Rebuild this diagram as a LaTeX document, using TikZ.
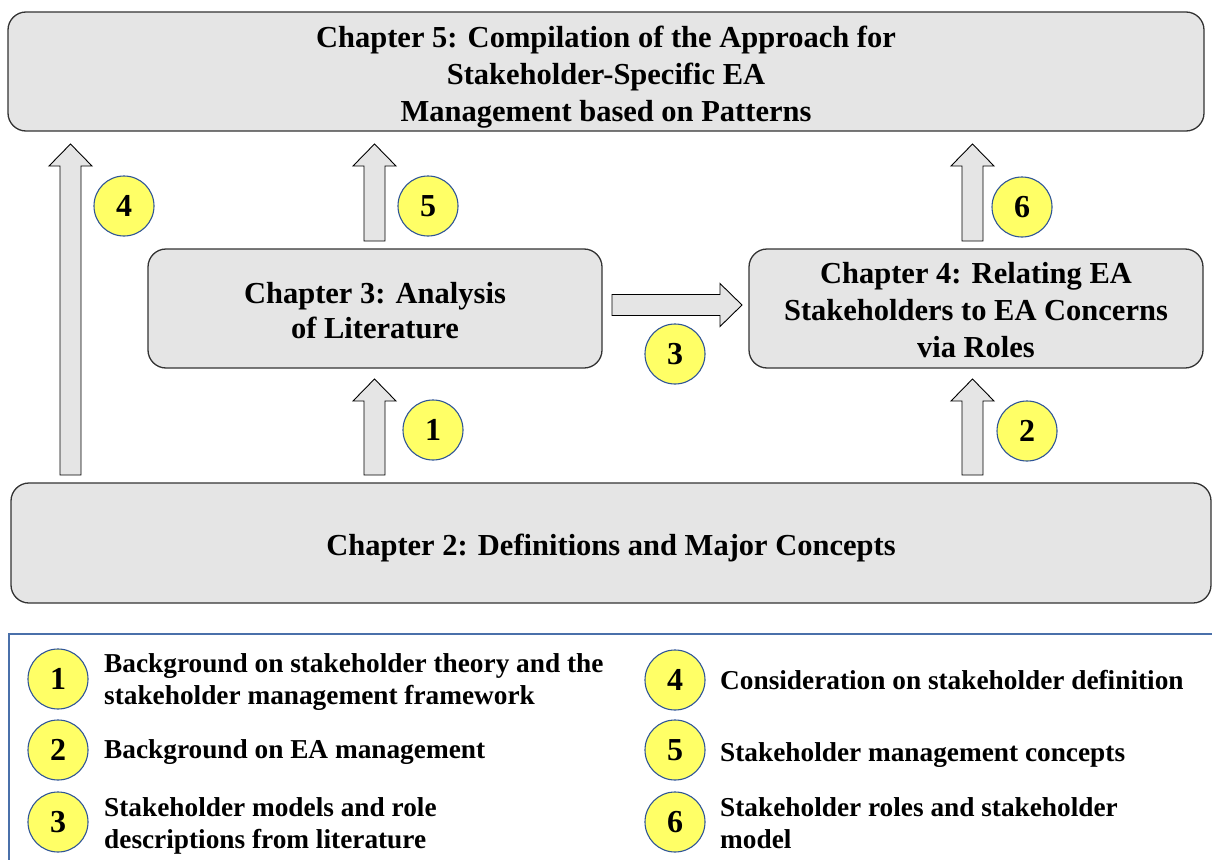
\documentclass[tikz,border=0pt]{standalone}
\usepackage{fontspec}
\setmainfont{Liberation Serif}
\usetikzlibrary{calc}

\definecolor{boxgray}{HTML}{E5E5E5}
\definecolor{boxline}{HTML}{333333}
\definecolor{badgefill}{HTML}{FFFF66}
\definecolor{badgeline}{HTML}{2F5597}
\definecolor{legendline}{HTML}{4A70AA}

\newcommand\chapfont{\fontsize{30.5}{37}\selectfont\bfseries}
\newcommand\legfont{\fontsize{27.3}{32.5}\selectfont\bfseries}
\newcommand\numfont{\fontsize{32}{36}\selectfont\bfseries}

\tikzset{
  chapbox/.style={draw=boxline, line width=1.3pt, fill=boxgray,
    rounded corners=18pt, inner sep=0pt},
  chaptext/.style={align=center, font=\chapfont, inner sep=0pt},
  badge/.style={circle, draw=badgeline, line width=1.1pt, fill=badgefill,
    minimum size=60pt, inner sep=0pt, font=\numfont},
  legtext/.style={anchor=west, align=left, font=\legfont, inner sep=0pt},
  % hollow block arrows drawn between two named points
  uparrow/.style={draw=black, line width=0.9pt, fill=boxgray,
    to path={($(\tikztostart)+(-10.5pt,0pt)$)
      -- ($(\tikztotarget)+(-10.5pt,-22pt)$)
      -- ($(\tikztotarget)+(-21.5pt,-22pt)$)
      -- (\tikztotarget)
      -- ($(\tikztotarget)+(21.5pt,-22pt)$)
      -- ($(\tikztotarget)+(10.5pt,-22pt)$)
      -- ($(\tikztostart)+(10.5pt,0pt)$) -- cycle}},
  rightarrow/.style={draw=black, line width=0.9pt, fill=boxgray,
    to path={($(\tikztostart)+(0pt,10.5pt)$)
      -- ($(\tikztotarget)+(-22pt,10.5pt)$)
      -- ($(\tikztotarget)+(-22pt,21.5pt)$)
      -- (\tikztotarget)
      -- ($(\tikztotarget)+(-22pt,-21.5pt)$)
      -- ($(\tikztotarget)+(-22pt,-10.5pt)$)
      -- ($(\tikztostart)+(0pt,-10.5pt)$) -- cycle}},
}

\begin{document}
\begin{tikzpicture}[x=1pt, y=-1pt]
\useasboundingbox (0,0) rectangle (1212,859);

% chapter boxes
\node[chapbox, minimum width=1196pt, minimum height=119pt] (ch5) at (606,71.5) {};
\node[chapbox, minimum width=454pt, minimum height=119pt] (ch3) at (375,308.5) {};
\node[chapbox, minimum width=454pt, minimum height=119pt] (ch4) at (976,308.5) {};
\node[chapbox, minimum width=1200pt, minimum height=120pt] (ch2) at (611,543) {};

% chapter titles
\node[chaptext] (ch5t) at ([yshift=-6pt]ch5.center)
  {Chapter 5: Compilation of the Approach for\\Stakeholder-Specific EA\\Management based on Patterns};
\node[chaptext, font=\fontsize{30.5}{35}\selectfont\bfseries] (ch3t) at ([yshift=-2pt]ch3.center)
  {Chapter 3: Analysis\\of Literature};
\node[chaptext] (ch4t) at ([yshift=-2pt]ch4.center)
  {Chapter 4: Relating EA\\Stakeholders to EA Concerns\\via Roles};
\node[chaptext] (ch2t) at ([yshift=-5pt]ch2.center)
  {Chapter 2: Definitions and Major Concepts};

% arrow end points
\coordinate (a4s) at (70.5,475);  \coordinate (a4e) at (70.5,144);
\coordinate (a5s) at (374.5,241); \coordinate (a5e) at (374.5,144);
\coordinate (a6s) at (972.5,241); \coordinate (a6e) at (972.5,144);
\coordinate (a1s) at (374.5,475); \coordinate (a1e) at (374.5,379);
\coordinate (a2s) at (972.5,475); \coordinate (a2e) at (972.5,379);
\coordinate (a3s) at (612,305);   \coordinate (a3e) at (742,305);

\draw[uparrow] (a4s) to (a4e);
\draw[uparrow] (a5s) to (a5e);
\draw[uparrow] (a6s) to (a6e);
\draw[uparrow] (a1s) to (a1e);
\draw[uparrow] (a2s) to (a2e);
\draw[rightarrow] (a3s) to (a3e);

% numbered badges on the arrows
\node[badge] (b4) at (124,206) {4};
\node[badge] (b5) at (428,206) {5};
\node[badge] (b6) at (1022,207) {6};
\node[badge] (b3) at (675,354) {3};
\node[badge] (b1) at (433,430) {1};
\node[badge] (b2) at (1027,431) {2};

% legend frame
\draw[legendline, line width=1.2pt] (1230,634) -- (9,634) -- (9,880);

% legend entries
\node[badge] (l1) at (58,679) {1};
\node[badge] (l2) at (58,750) {2};
\node[badge] (l3) at (58,822) {3};
\node[badge] (l4) at (675,680) {4};
\node[badge] (l5) at (675,750) {5};
\node[badge] (l6) at (675,822) {6};

\node[legtext] (t1) at (104,682) {Background on stakeholder theory and the\\stakeholder management framework};
\node[legtext] (t2) at (104,752) {Background on EA management};
\node[legtext] (t3) at (104,826) {Stakeholder models and role\\descriptions from literature};
\node[legtext] (t4) at (720,680) {Consideration on stakeholder definition};
\node[legtext] (t5) at (720,755) {Stakeholder management concepts};
\node[legtext] (t6) at (720,823) {Stakeholder roles and stakeholder\\model};
\end{tikzpicture}
\end{document}
